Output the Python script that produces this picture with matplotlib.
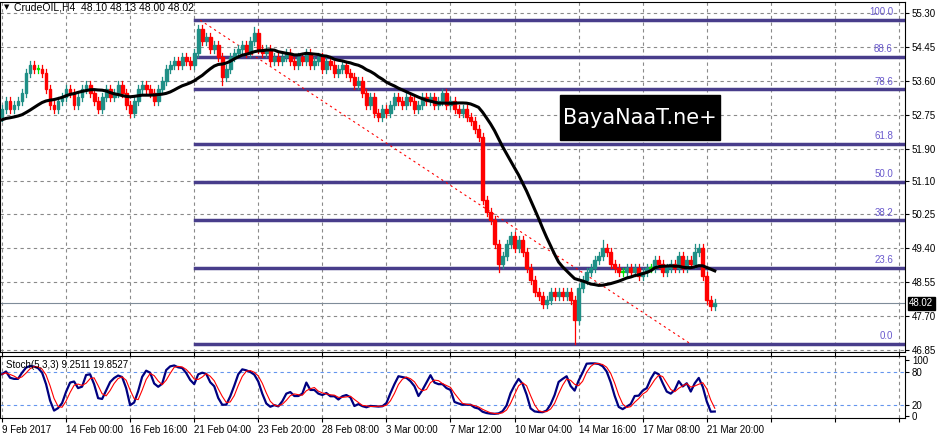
import matplotlib
matplotlib.use("Agg")
import matplotlib.pyplot as plt
import numpy as np
import pandas as pd
from matplotlib.patches import Rectangle

plt.rcParams['font.family'] = ['Liberation Sans', 'DejaVu Sans']

closes = [52.9,53.1,52.9,53.0,53.1, 53.3,53.8,54.0,53.9,53.9, 53.8,53.4,53.0,52.9,53.1,
          53.2,53.4,53.3,53.0,53.2, 53.4,53.5,53.3,53.1,52.9, 53.2,53.4,53.2,53.3,53.5,
          53.3,53.0,52.8,53.1,53.4, 53.5,53.4,53.3,53.1,53.4, 53.6,53.9,54.0,54.1,54.0,
          54.2,54.1,54.0,54.3,54.9, 54.6,54.7,54.4,54.5,54.2, 53.7,53.9,54.2,54.3,54.4,
          54.5,54.3,54.6,54.8,54.4, 54.3,54.4,54.1,54.2,54.1, 54.2,54.3,54.1,54.0,54.2,
          54.1,54.3,54.0,54.1,54.2, 53.9,54.1,54.0,53.8,53.9, 54.0,53.8,53.7,53.5,53.6,
          53.3,53.0,53.2,52.8,52.7, 52.9,52.8,53.0,53.2,53.1, 53.0,53.2,53.1,52.9,53.0,
          53.2,53.1,53.2,53.0,53.1, 53.3,53.0,53.1,52.9,52.8, 52.9,52.7,52.6,52.4,52.2,
          50.6,50.3,50.1,49.5,49.0, 49.2,49.5,49.7,49.4,49.6, 49.3,48.9,48.6,48.3,48.2,
          48.0,48.1,48.3,48.2,48.3, 48.2,48.3,48.1,47.6,48.4, 48.6,48.8,48.9,49.1,49.2,
          49.4,49.3,49.0,48.9,48.8, 48.8,48.9,48.8,48.9,48.7, 48.8,48.9,48.9,49.1,49.0,
          48.8,48.9,49.0,48.9,49.2, 48.9,49.1,49.0,49.3,49.4, 48.7,48.1,47.95,48.02]
first_open = 52.7
ma_seed = [52.6] * 12
spike_highs = {49: 55.0, 63: 54.95, 150: 49.6, 173: 49.5, 120: 52.3}
spike_lows = {143: 47.0, 124: 48.8, 55: 53.5}
fib_levels = [100.0, 88.6, 78.6, 61.8, 50.0, 38.2, 23.6, 0.0]
fib_high, fib_low = 55.12, 47.0
price_ticks = [55.30,54.45,53.60,52.75,51.90,51.10,50.25,49.40,48.55,47.70,46.85]
date_labels = ["9 Feb 2017","14 Feb 00:00","16 Feb 16:00","21 Feb 04:00","23 Feb 20:00",
               "28 Feb 08:00","3 Mar 00:00","7 Mar 12:00","10 Mar 04:00","14 Mar 16:00",
               "17 Mar 08:00","21 Mar 20:00"]
last_price = 48.02

c = np.array(closes)
n = len(c)
o = np.concatenate([[first_open], c[:-1]])
h = np.maximum(o, c) + 0.1
l = np.minimum(o, c) - 0.1
for k, v in spike_highs.items(): h[k] = v
for k, v in spike_lows.items(): l[k] = v
x = np.arange(n)

fig = plt.figure(figsize=(9.45, 4.4), dpi=100)
W, H = 945, 440
ax = fig.add_axes([0, 1-352/H, 905/W, 350/H])
sx = fig.add_axes([0, 1-418/H, 905/W, 62/H])
XMAX = 225.5
for a in (ax, sx):
    a.set_xlim(-0.5, XMAX)
    for s in a.spines.values(): s.set_color("black")
    a.tick_params(axis="y", which="both", right=True, left=False, labelright=True, labelleft=False,
                  labelsize=7, length=3, pad=2)
ax.set_ylim(46.80, 55.576)
ax.set_yticks(price_ticks)
ax.set_yticklabels([f"{t:.2f}" for t in price_ticks])
gx = np.arange(0, XMAX, 16)
for a in (ax, sx):
    a.set_xticks(gx)
    for g in gx:
        a.axvline(g, color="#8a8a8a", ls=(0, (3, 3)), lw=0.8, zorder=0)
for t in price_ticks:
    ax.axhline(t, color="#8a8a8a", ls=(0, (3, 3)), lw=0.8, zorder=0)
ax.set_xticklabels([])
sx.set_xticklabels(date_labels + [""] * (len(gx) - len(date_labels)), fontsize=7, ha="left")
sx.tick_params(axis="x", length=3, pad=2)

# fib
for lv in fib_levels:
    p = fib_low + (fib_high - fib_low) * lv / 100
    ax.plot([48.3, XMAX], [p, p], color="#483D8B", lw=2.5, zorder=2)
    ax.text(XMAX - 3, p + 0.07, f"{lv:.1f}", color="#6a5acd", fontsize=7, ha="right", va="bottom")
ax.plot([49.5, 172], [fib_high, fib_low], color="red", ls=(0, (2, 3)), lw=0.8, zorder=2)
ax.axhline(last_price, color="#7f8c99", lw=0.8, zorder=1)

# candles
for i in range(n):
    if abs(c[i] - o[i]) < 0.02:
        col = "#00e000"
    elif c[i] > o[i]:
        col = "#1f8f86"
    else:
        col = "#ff0000"
    ax.plot([i, i], [l[i], h[i]], color=col, lw=0.9, zorder=3)
    bot = min(o[i], c[i]); ht = max(abs(c[i] - o[i]), 0.02)
    ax.add_patch(Rectangle((i - 0.35, bot), 0.7, ht, color=col, zorder=3))

ma_full = pd.Series(ma_seed + closes).rolling(20, min_periods=1).mean()
ma = ma_full.values[len(ma_seed):]
ax.plot(x, ma, color="black", lw=2.2, zorder=4)

ax.text(3, 55.45, "CrudeOIL,H4  48.10 48.13 48.00 48.02", fontsize=7.5, va="center")
ax.text(0.5, 55.45, "▼", fontsize=5, va="center", family="DejaVu Sans")
ax.text(XMAX + 1, last_price, "48.02", fontsize=7, color="white", va="center", ha="left",
        bbox=dict(boxstyle="square,pad=0.15", fc="black", ec="black"), clip_on=False)

# watermark
fig.patches.append(Rectangle((560/W, 1-140/H), 160/W, 45/H, transform=fig.transFigure,
                             color="black", zorder=5))
fig.text(640/W, 1-118/H, "BayaNaaT.ne+", color="white", fontsize=15, ha="center", va="center",
         zorder=6, family="DejaVu Sans Condensed")

# stochastic
hh = pd.Series(h).rolling(5, min_periods=1).max()
ll = pd.Series(l).rolling(5, min_periods=1).min()
cs = pd.Series(c)
k = 100 * (cs - ll).rolling(3, min_periods=1).sum() / (hh - ll).rolling(3, min_periods=1).sum()
d = k.rolling(3, min_periods=1).mean()
sx.set_ylim(-4, 108)
sx.set_yticks([0, 20, 80, 100])
sx.set_yticklabels(["0", "20", "80", "100"])
for lv in (20, 80):
    sx.axhline(lv, color="#6495ed", ls=(0, (3, 3)), lw=0.8)
sx.plot(x, k, color="#000080", lw=1.6)
sx.plot(x, d, color="red", lw=0.8)
sx.text(1, 100, "Stoch(5,3,3) 9.2511 19.8527", fontsize=7, va="top")

fig.savefig("out.png", dpi=100)
